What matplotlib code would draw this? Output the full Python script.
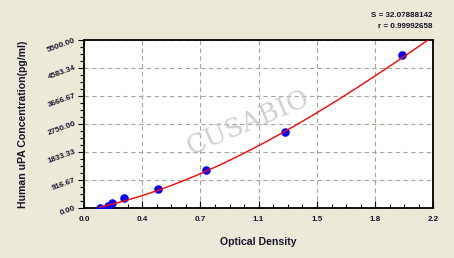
import numpy as np
import matplotlib
matplotlib.use("Agg")
import matplotlib.pyplot as plt
from matplotlib.ticker import FixedLocator, AutoMinorLocator

# standard curve points (optical density vs concentration)
od = [0.099, 0.151, 0.177, 0.254, 0.466, 0.769, 1.269, 2.005]
conc = [0, 78, 156, 312.5, 625, 1250, 2500, 5000]

# fitted curve at the grid lines
curve_od = [0.099, 0.367, 0.733, 1.1, 1.467, 1.833, 2.175]
curve_conc = [0, 448, 1136, 1987, 3100, 4377, 5500]

x_ticks = [0.0, 0.367, 0.733, 1.1, 1.467, 1.833, 2.2]
x_labels = ["0.0", "0.4", "0.7", "1.1", "1.5", "1.8", "2.2"]
y_ticks = [0, 916.67, 1833.33, 2750.0, 3666.67, 4583.34, 5500.0]
y_labels = ["0.00", "916.67", "1833.33", "2750.00", "3666.67", "4583.34", "5500.00"]

fit_text = ["S = 32.07888142", "r = 0.99992658"]

plt.rcParams["font.family"] = ["Liberation Sans", "DejaVu Sans"]
bg = "#ece9d8"
txt = "#15152a"

fig = plt.figure(figsize=(4.54, 2.58), dpi=100, facecolor=bg)
ax = fig.add_axes([0.185, 0.194, 0.769, 0.651])
ax.set_facecolor("white")

# smooth the read curve with a cubic
coef = np.polyfit(curve_od, curve_conc, 3)
xs = np.linspace(curve_od[0], 2.2, 300)
ax.plot(xs, np.polyval(coef, xs), color="#ff0000", lw=1.0, zorder=4)
ax.scatter(od, conc, s=38, color="#0000ff", zorder=3, linewidths=0)

ax.set_xlim(0, 2.2)
ax.set_ylim(0, 5500)
ax.xaxis.set_major_locator(FixedLocator(x_ticks))
ax.yaxis.set_major_locator(FixedLocator(y_ticks))
ax.set_xticklabels(x_labels, fontsize=5.8, fontweight="bold", color=txt)
ax.set_yticklabels(y_labels, fontsize=5.8, fontweight="bold", color=txt,
                   rotation=20, ha="right", va="center", rotation_mode="anchor")
ax.xaxis.set_minor_locator(AutoMinorLocator(4))
ax.yaxis.set_minor_locator(AutoMinorLocator(4))
ax.tick_params(axis="x", which="both", direction="in", pad=6)
ax.tick_params(axis="x", which="major", length=5, width=0.8)
ax.tick_params(axis="x", which="minor", length=3, width=0.8)
ax.tick_params(axis="y", which="both", direction="out", pad=2)
ax.tick_params(axis="y", which="major", length=4, width=0.8)
ax.tick_params(axis="y", which="minor", length=3, width=0.8)

for sp in ax.spines.values():
    sp.set_linewidth(1.3)
    sp.set_color("black")

ax.grid(True, which="major", linestyle=(0, (4, 3)), color="#a8a496", lw=0.8)
ax.set_axisbelow(True)

ax.set_xlabel("Optical Density", fontsize=7.6, fontweight="bold", labelpad=10, color=txt)
ax.set_ylabel("Human uPA Concentration(pg/ml)", fontsize=7.6, fontweight="bold",
              labelpad=13, color=txt)

# watermark
ax.text(0.47, 0.51, "CUSABIO", transform=ax.transAxes, fontsize=19, family="DejaVu Serif",
        color="#c8c8c8", alpha=0.85, rotation=23, ha="center", va="center", zorder=1)

fig.text(0.953, 1 - 15.7 / 258, fit_text[0], fontsize=5.8, fontweight="bold",
         ha="right", va="center", color=txt)
fig.text(0.953, 1 - 26.7 / 258, fit_text[1], fontsize=5.8, fontweight="bold",
         ha="right", va="center", color=txt)

fig.savefig("out.png", dpi=100, facecolor=bg)
